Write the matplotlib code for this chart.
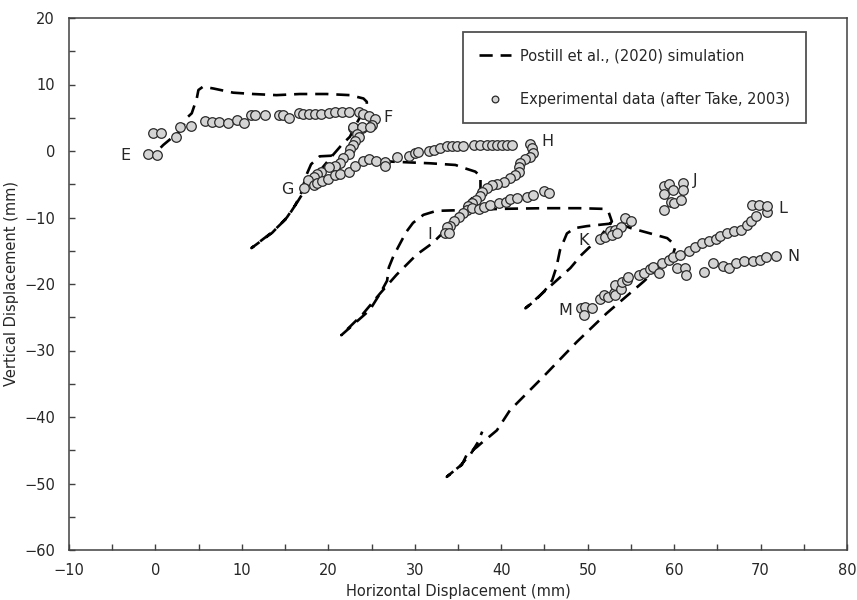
import matplotlib
matplotlib.use("Agg")
import matplotlib.pyplot as plt

# ---- Simulated trajectory (Postill et al., 2020), one continuous path E -> N ----
sim_x = [0.6, 0.9, 1.5, 3.0, 3.7, 4.2, 4.78, 4.97, 5.5, 6.7, 9.0, 11.3, 14.0, 16.7, 19.8, 22.5, 24.06, 24.45, 24.45,
         23.2, 22.5, 21.6, 20.4, 19.0, 17.6, 16.5, 15.2, 13.5, 11.1,
         13.6, 15.2, 16.2, 16.9, 17.4, 18.0, 19.0, 20.5, 23.0, 27.35, 31.8, 34.7, 35.8, 37.0, 37.6, 37.6,
         36.4, 35.0, 33.5, 32.0, 30.2, 27.9, 26.0, 24.0, 21.5,
         23.5, 24.8, 26.0, 26.8, 27.0, 27.5, 28.1, 29.0, 29.8, 31.0, 32.5, 35.25, 40.0, 45.0, 49.0, 51.8, 52.4, 52.8,
         51.5, 50.5, 49.3, 48.0, 46.25, 44.5, 42.8,
         44.0, 45.1, 45.9, 46.4, 46.8, 47.6, 48.5, 49.9, 52.8, 53.8, 55.0, 57.25, 59.2, 59.9, 60.1, 59.9,
         56.5, 52.2, 48.75, 44.9, 41.0, 39.5, 38.4, 37.9, 37.2, 36.0, 35.45, 34.9, 33.7,
         35.2, 36.5, 37.3, 37.8]
sim_y = [0.5, 0.9, 1.55, 3.2, 5.07, 5.67, 7.9, 9.17, 9.67, 9.4, 8.77, 8.57, 8.4, 8.57, 8.57, 8.4, 7.9, 7.4, 6.9,
         4.0, 2.15, 1.0, -0.8, -3.0, -5.2, -7.5, -10.0, -12.3, -14.6,
         -12.1, -10.1, -8.1, -6.2, -3.8, -2.0, -0.8, -0.7, -1.0, -1.6, -1.85, -2.1, -2.6, -3.1, -3.8, -5.9,
         -7.4, -9.5, -12.0, -13.9, -15.6, -18.6, -21.4, -24.5, -27.7,
         -25.4, -23.9, -21.4, -19.5, -17.5, -15.9, -14.4, -12.2, -10.8, -9.6, -9.0, -8.9, -8.7, -8.6, -8.6, -8.7, -9.1, -10.6,
         -12.8, -14.1, -15.6, -17.6, -19.65, -21.7, -23.65,
         -22.4, -20.9, -19.4, -17.4, -14.9, -12.4, -11.6, -11.3, -10.9, -11.0, -11.6, -12.4, -13.1, -13.9, -14.6, -15.4,
         -19.6, -24.4, -28.7, -33.9, -39.0, -42.0, -43.2, -43.7, -44.5, -45.7, -47.2, -47.7, -49.0,
         -47.4, -45.5, -43.8, -42.2]

# ---- Experimental data (after Take, 2003) ----
# E -> F
ef_x = [-0.82, 0.15, -0.24, 0.65, 2.38, 2.85, 4.08, 5.74, 6.5, 7.4, 8.44, 9.4, 10.2, 11.1, 11.5, 12.7, 14.3, 14.8,
        15.5, 16.65, 17.1, 17.8, 18.5, 19.2, 20.1, 20.8, 21.6, 22.4, 23.5, 24.06, 24.76, 25.4, 25.0, 23.9, 22.9]
ef_y = [-0.45, -0.6, 2.66, 2.66, 2.06, 3.65, 3.8, 4.56, 4.4, 4.4, 4.26, 4.66, 4.26, 5.4, 5.4, 5.4, 5.4, 5.4,
        5.0, 5.76, 5.5, 5.5, 5.5, 5.5, 5.67, 5.9, 5.9, 5.9, 5.9, 5.5, 5.3, 4.77, 3.9, 3.4, 3.4]
# F -> G
fg_x = [22.9, 23.9, 24.8, 23.3, 23.5, 23.1, 22.9, 22.5, 22.4, 21.75, 21.4, 20.8, 20.1, 19.2, 18.7, 18.3, 17.7, 17.2]
fg_y = [3.56, 3.56, 3.65, 2.56, 2.15, 1.55, 0.9, 0.25, -0.45, -1.1, -1.76, -2.26, -2.36, -3.1, -3.46, -3.96, -4.36, -5.5]
# G -> H
gh_x = [18.3, 18.7, 19.25, 20.0, 20.8, 21.4, 22.4, 23.1, 24.0, 24.65, 25.5, 26.6, 26.5, 27.9, 29.3, 30.05, 30.4,
        31.6, 32.2, 32.9, 33.7, 34.3, 34.9, 35.6, 36.8, 37.6, 38.3, 38.9, 39.5, 40.1, 40.7, 41.2]
gh_y = [-5.1, -4.86, -4.5, -4.26, -3.6, -3.5, -3.1, -2.26, -1.46, -1.25, -1.46, -1.6, -2.2, -0.86, -0.75, -0.25, -0.1,
        0.05, 0.15, 0.4, 0.75, 0.75, 0.75, 0.75, 0.9, 0.9, 0.9, 0.9, 0.9, 0.9, 0.9, 0.9]
# H -> I
hi_x = [43.35, 43.55, 43.7, 43.3, 42.8, 42.2, 42.1, 42.0, 41.6, 40.96, 40.3, 39.5, 38.9, 38.3, 37.8, 37.6, 37.1,
        36.6, 36.2, 36.0, 35.6, 35.06, 34.56, 34.1, 33.7, 33.5, 34.0]
hi_y = [1.05, 0.4, -0.25, -0.86, -1.25, -1.76, -2.36, -3.1, -3.6, -4.1, -4.6, -4.96, -5.1, -5.6, -6.1, -6.77, -7.37,
        -7.87, -8.27, -8.87, -9.37, -9.87, -10.6, -11.3, -11.5, -12.4, -12.4]
# I -> J
ij_x = [36.6, 37.4, 37.97, 38.7, 39.7, 40.5, 41.0, 41.8, 43.0, 43.7, 44.9, 45.5,
        58.8, 59.4, 61.0, 58.8, 59.9, 61.0, 59.6, 60.0, 60.75, 58.8]
ij_y = [-8.6, -8.77, -8.37, -8.1, -7.87, -7.6, -7.27, -7.1, -6.87, -6.6, -5.97, -6.27,
        -5.26, -4.96, -4.76, -6.47, -5.86, -5.86, -7.6, -7.87, -7.37, -8.87]
# J -> K
jk_x = [51.4, 52.0, 52.6, 53.2, 53.8, 54.35, 55.0, 52.8, 53.4]
jk_y = [-13.3, -12.9, -12.1, -11.9, -11.4, -10.1, -10.6, -12.6, -12.3]
# M -> L
ml_x = [49.26, 49.7, 49.6, 50.5, 51.46, 51.9, 52.3, 53.0, 53.2, 53.2, 53.8, 53.97, 54.55, 54.66, 55.9, 56.5, 57.25,
        57.6, 58.2, 58.6, 59.4, 59.9, 60.7, 61.7, 62.45, 63.2, 64.0, 64.8, 65.3, 66.1, 66.9, 67.7, 68.4, 68.9,
        69.5, 70.7, 69.0, 69.8, 70.75]
ml_y = [-23.65, -23.4, -24.66, -23.56, -22.3, -21.65, -22.0, -21.3, -20.15, -21.65, -20.8, -19.65, -19.4, -19.0,
        -18.65, -18.4, -17.8, -17.4, -18.3, -16.8, -16.4, -16.0, -15.6, -15.0, -14.4, -13.8, -13.6, -13.3, -12.8,
        -12.3, -12.1, -11.9, -11.1, -10.5, -9.8, -9.1, -8.1, -8.1, -8.27]
# -> N
n_x = [60.3, 61.3, 61.4, 63.4, 64.5, 65.7, 66.3, 67.2, 68.1, 69.1, 69.9, 70.6, 71.8]
n_y = [-17.6, -17.6, -18.6, -18.15, -16.9, -17.3, -17.6, -16.8, -16.5, -16.5, -16.4, -16.0, -15.8]

exp_x = ef_x + fg_x + gh_x + hi_x + ij_x + jk_x + ml_x + n_x
exp_y = ef_y + fg_y + gh_y + hi_y + ij_y + jk_y + ml_y + n_y

# Stage labels
stage_names = ["E", "F", "G", "H", "I", "J", "K", "L", "M", "N"]
stage_x = [-3.5, 26.9, 15.2, 45.3, 31.7, 62.45, 49.5, 72.6, 47.4, 73.75]
stage_y = [-0.75, 5.0, -5.8, 1.4, -12.5, -4.5, -13.4, -8.6, -24.0, -15.8]

x_ticks = list(range(-10, 81, 10))
y_ticks = list(range(-60, 21, 10))

ink = "#262626"
plt.rcParams["font.family"] = ["DejaVu Sans"]

fig = plt.figure(figsize=(8.57, 6.0), dpi=100)
ax = fig.add_axes([69 / 857, 50 / 600, 778 / 857, 532 / 600])

ax.plot(sim_x, sim_y, color="black", lw=1.9, dashes=(5, 3), zorder=2,
        label="Postill et al., (2020) simulation")
ax.plot(exp_x, exp_y, ls="none", marker="o", ms=6.9, mfc="#d4d4d4", mec="#2a2a2a", mew=0.9,
        zorder=3, label="Experimental data (after Take, 2003)")

for name, tx, ty in zip(stage_names, stage_x, stage_y):
    ax.text(tx, ty, name, fontsize=11.5, color=ink, ha="center", va="center", zorder=4)

ax.set_xlim(-10, 80)
ax.set_ylim(-60, 20)
ax.set_xticks(x_ticks)
ax.set_yticks(y_ticks)
ax.set_xticks(range(-5, 80, 10), minor=True)
ax.set_yticks(range(-55, 20, 10), minor=True)
ax.tick_params(which="both", direction="in", length=4, width=1, color="#404040",
               labelsize=10.5, labelcolor=ink)
ax.tick_params(axis="x", which="both", pad=9.5)
ax.tick_params(axis="y", which="both", pad=10)
for sp in ax.spines.values():
    sp.set_color("#404040")
    sp.set_linewidth(1.1)

ax.set_xlabel("Horizontal Displacement (mm)", fontsize=10.5, color=ink, labelpad=4)
ax.set_ylabel("Vertical Displacement (mm)", fontsize=10.5, color=ink, labelpad=4)

leg = ax.legend(loc="upper left", bbox_to_anchor=((463 - 69) / 778, 1 - 14 / 532),
                borderaxespad=0, fontsize=10.5, fancybox=False, framealpha=1,
                edgecolor="#505050", borderpad=1.1, labelspacing=2.0, handlelength=2.2,
                handletextpad=0.6, markerscale=0.7)
leg.get_frame().set_linewidth(1.3)
for t in leg.get_texts():
    t.set_color(ink)

fig.savefig("out.png", dpi=100)
